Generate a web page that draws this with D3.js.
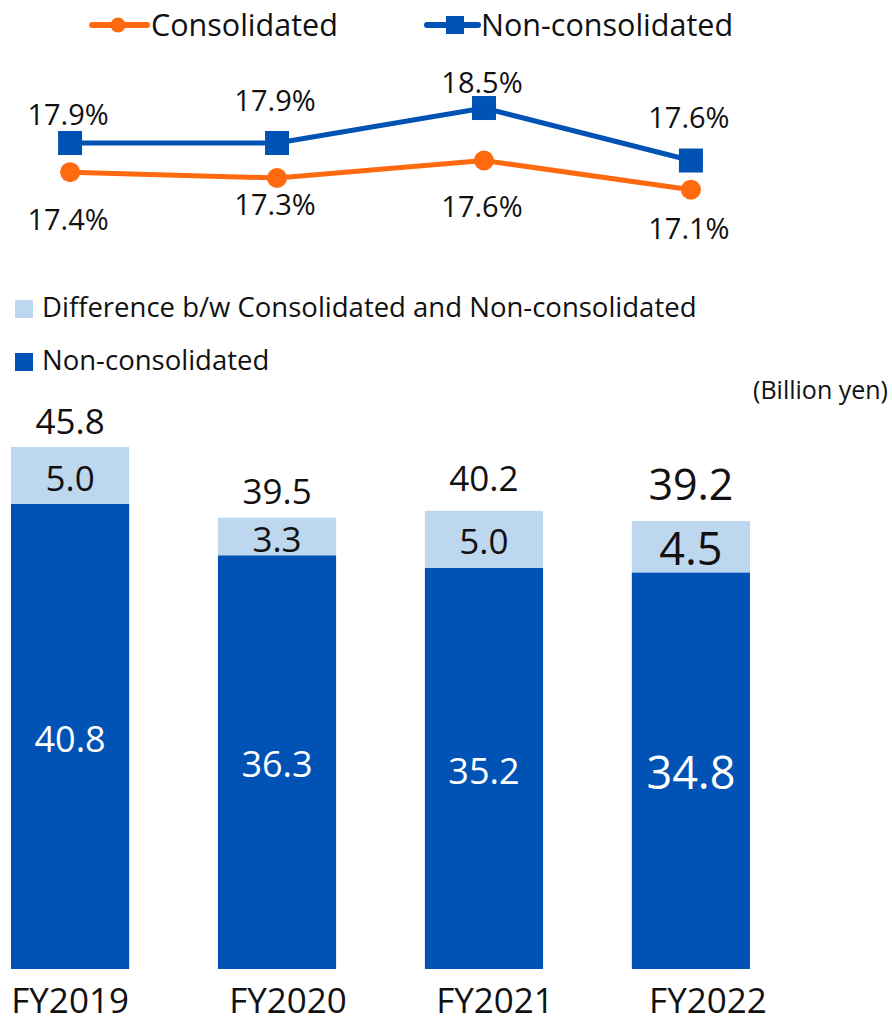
<!DOCTYPE html>
<html>
<head>
<meta charset="utf-8">
<script src="https://cdn.jsdelivr.net/npm/d3@7"></script>
<style>
  body { margin: 0; background: #fff; }
  text { font-family: "Open Sans", "Noto Sans", sans-serif; }
</style>
</head>
<body>
<div id="chart"></div>
<script>
// data
const years = ["FY2019", "FY2020", "FY2021", "FY2022"];
const consolidatedRatio = [17.4, 17.3, 17.6, 17.1];
const nonConsolidatedRatio = [17.9, 17.9, 18.5, 17.6];
const nonConsolidated = [40.8, 36.3, 35.2, 34.8];
const difference = [5.0, 3.3, 5.0, 4.5];
const totals = [45.8, 39.5, 40.2, 39.2];

// label tweaks, as placed in the original
const ncLabelDy = [-18, -32, -15, -33];
const consLabelDy = [58, 37, 56, 49];
const totalDy = [-13, -14, -20, -21];
const totalSize = [35, 35, 35, 43];
const segSize = [35, 35, 35, 45];
const yearDx = [0, 11, 11, 17];

const width = 892, height = 1023;
const orange = "#FF6A10", blue = "#0052B4", light = "#BDD7EE";

let svg = d3.select("#chart").append("svg")
    .attr("width", width)
    .attr("height", height);

// shared x scale
let x = d3.scaleBand().domain(years).range([11, 750]).paddingInner(0.429).paddingOuter(0);
let cx = d => x(d) + x.bandwidth() / 2;

// ---------- top legend ----------
let lg = svg.append("g");
lg.append("line").attr("x1", 92).attr("x2", 147).attr("y1", 25).attr("y2", 25)
    .attr("stroke", orange).attr("stroke-width", 6).attr("stroke-linecap", "round");
lg.append("circle").attr("cx", 118).attr("cy", 25).attr("r", 7.5).attr("fill", orange);
lg.append("text").attr("x", 151).attr("y", 36).attr("font-size", 30.5).attr("fill", "#111").text("Consolidated");
lg.append("line").attr("x1", 427).attr("x2", 478).attr("y1", 25).attr("y2", 25)
    .attr("stroke", blue).attr("stroke-width", 6).attr("stroke-linecap", "round");
lg.append("rect").attr("x", 446).attr("y", 16).attr("width", 18).attr("height", 18).attr("fill", blue);
lg.append("text").attr("x", 481).attr("y", 36).attr("font-size", 30.5).attr("fill", "#111").text("Non-consolidated");

// ---------- line chart ----------
let yl = d3.scaleLinear().domain([17, 18.6]).range([195.5, 102.2]);

let line = d3.line().x((d, i) => cx(years[i])).y(d => yl(d));

svg.append("path").datum(nonConsolidatedRatio)
    .attr("d", line).attr("fill", "none").attr("stroke", blue).attr("stroke-width", 5);
svg.append("path").datum(consolidatedRatio)
    .attr("d", line).attr("fill", "none").attr("stroke", orange).attr("stroke-width", 5);

svg.selectAll(".sq").data(nonConsolidatedRatio).enter().append("rect")
    .attr("x", (d, i) => cx(years[i]) - 12)
    .attr("y", d => yl(d) - 12)
    .attr("width", 24).attr("height", 24)
    .attr("fill", blue);

svg.selectAll(".dot").data(consolidatedRatio).enter().append("circle")
    .attr("cx", (d, i) => cx(years[i]))
    .attr("cy", d => yl(d))
    .attr("r", 10)
    .attr("fill", orange);

svg.selectAll(".ncLabel").data(nonConsolidatedRatio).enter().append("text")
    .attr("x", (d, i) => cx(years[i]) - 2)
    .attr("y", (d, i) => yl(d) + ncLabelDy[i])
    .attr("text-anchor", "middle").attr("font-size", 29).attr("fill", "#111")
    .text(d => d.toFixed(1) + "%");

svg.selectAll(".cLabel").data(consolidatedRatio).enter().append("text")
    .attr("x", (d, i) => cx(years[i]) - 2)
    .attr("y", (d, i) => yl(d) + consLabelDy[i])
    .attr("text-anchor", "middle").attr("font-size", 29).attr("fill", "#111")
    .text(d => d.toFixed(1) + "%");

// ---------- bar legend ----------
svg.append("rect").attr("x", 15).attr("y", 300).attr("width", 18).attr("height", 18).attr("fill", light);
svg.append("text").attr("x", 42).attr("y", 317).attr("font-size", 27.5).attr("fill", "#111")
    .text("Difference b/w Consolidated and Non-consolidated");
svg.append("rect").attr("x", 15).attr("y", 353).attr("width", 18).attr("height", 18).attr("fill", blue);
svg.append("text").attr("x", 42).attr("y", 370).attr("font-size", 27.5).attr("fill", "#111")
    .text("Non-consolidated");
svg.append("text").attr("x", 888).attr("y", 399).attr("text-anchor", "end")
    .attr("font-size", 25).attr("fill", "#111").text("(Billion yen)");

// ---------- stacked bars ----------
let yb = d3.scaleLinear().domain([0, 45.8]).range([969, 447]);

svg.selectAll(".barNC").data(nonConsolidated).enter().append("rect")
    .attr("x", (d, i) => x(years[i]))
    .attr("y", d => yb(d))
    .attr("width", x.bandwidth())
    .attr("height", d => yb(0) - yb(d))
    .attr("fill", blue);

svg.selectAll(".barDiff").data(difference).enter().append("rect")
    .attr("x", (d, i) => x(years[i]))
    .attr("y", (d, i) => yb(nonConsolidated[i] + d))
    .attr("width", x.bandwidth())
    .attr("height", (d, i) => yb(nonConsolidated[i]) - yb(nonConsolidated[i] + d))
    .attr("fill", light);

svg.selectAll(".ncVal").data(nonConsolidated).enter().append("text")
    .attr("x", (d, i) => cx(years[i]))
    .attr("y", (d, i) => (yb(0) + yb(d)) / 2 + 0.36 * segSize[i] + 2.5)
    .attr("text-anchor", "middle").attr("font-size", (d, i) => segSize[i] + (i === 3 ? 0 : 1))
    .attr("fill", "#fff")
    .text(d => d.toFixed(1));

svg.selectAll(".diffVal").data(difference).enter().append("text")
    .attr("x", (d, i) => cx(years[i]))
    .attr("y", (d, i) => (yb(nonConsolidated[i]) + yb(nonConsolidated[i] + d)) / 2 + 0.36 * segSize[i] + 2.5)
    .attr("text-anchor", "middle").attr("font-size", (d, i) => segSize[i])
    .attr("fill", "#111")
    .text(d => d.toFixed(1));

svg.selectAll(".totVal").data(totals).enter().append("text")
    .attr("x", (d, i) => cx(years[i]))
    .attr("y", (d, i) => yb(nonConsolidated[i] + difference[i]) + totalDy[i])
    .attr("text-anchor", "middle").attr("font-size", (d, i) => totalSize[i])
    .attr("fill", "#111")
    .text(d => d.toFixed(1));

svg.selectAll(".year").data(years).enter().append("text")
    .attr("x", (d, i) => cx(d) + yearDx[i])
    .attr("y", 1013)
    .attr("text-anchor", "middle").attr("font-size", 35).attr("fill", "#111")
    .text(d => d);
</script>
</body>
</html>
